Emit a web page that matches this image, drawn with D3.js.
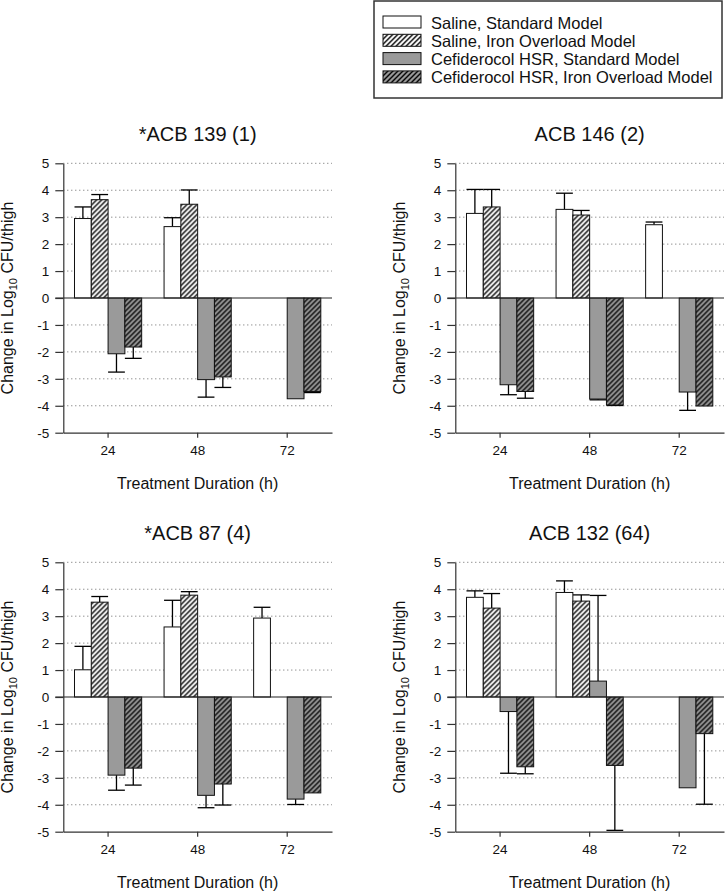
<!DOCTYPE html>
<html>
<head>
<meta charset="utf-8">
<script src="https://cdn.jsdelivr.net/npm/d3@7"></script>
<style>
  body { margin: 0; background: #fff; }
  text { font-family: "Liberation Sans", Arial, sans-serif; fill: #111; }
</style>
</head>
<body>
<div id="chart"></div>
<script>
// categories / labels
var durations = ["24", "48", "72"];
var seriesNames = ["Saline, Standard Model", "Saline, Iron Overload Model",
  "Cefiderocol HSR, Standard Model", "Cefiderocol HSR, Iron Overload Model"];
var panelTitles = ["*ACB 139 (1)", "ACB 146 (2)", "*ACB 87 (4)", "ACB 132 (64)"];
var yTicks = [5, 4, 3, 2, 1, 0, -1, -2, -3, -4, -5];

// mean change per series (rows) at 24 / 48 / 72 h, null = not tested
var acb139Mean = [[2.95, 2.65, null], [3.65, 3.48, null], [-2.07, -3.03, -3.74], [-1.82, -2.93, -3.47]];
var acb139Err  = [[0.43, 0.33, null], [0.19, 0.53, null], [0.68, 0.65, 0], [0.42, 0.39, 0.04]];
var acb146Mean = [[3.14, 3.29, 2.72], [3.38, 3.08, null], [-3.22, -3.75, -3.49], [-3.47, -3.97, -4.01]];
var acb146Err  = [[0.89, 0.60, 0.10], [0.65, 0.17, null], [0.37, 0.03, 0.68], [0.25, 0.02, 0]];
var acb87Mean  = [[1.01, 2.60, 2.93], [3.52, 3.78, null], [-2.90, -3.65, -3.79], [-2.64, -3.23, -3.56]];
var acb87Err   = [[0.87, 0.99, 0.40], [0.21, 0.13, null], [0.56, 0.46, 0.20], [0.63, 0.78, 0]];
var acb132Mean = [[3.70, 3.88, null], [3.30, 3.56, null], [-0.54, 0.59, -3.37], [-2.59, -2.54, -1.36]];
var acb132Err  = [[0.24, 0.43, null], [0.54, 0.23, null], [2.29, 3.18, 0], [0.26, 2.41, 2.62]];

var panelMeans = [acb139Mean, acb146Mean, acb87Mean, acb132Mean];
var panelErrs = [acb139Err, acb146Err, acb87Err, acb132Err];

const width = 725;
const height = 893;
const plotW = 268.7;
const plotH = 269.4;
const origins = [[63.3, 163.3], [455.3, 163.3], [63.3, 562.3], [455.3, 562.3]];
const fills = ["#ffffff", "url(#hatchWhite)", "#9a9a9a", "url(#hatchGray)"];

const svg = d3.select("#chart").append("svg")
  .attr("width", width)
  .attr("height", height);

svg.append("rect").attr("width", width).attr("height", height).attr("fill", "#fff");

const defs = svg.append("defs");
function makeHatch(id, bg) {
  const p = defs.append("pattern")
    .attr("id", id)
    .attr("patternUnits", "userSpaceOnUse")
    .attr("width", 5)
    .attr("height", 5);
  p.append("rect").attr("width", 5).attr("height", 5).attr("fill", bg);
  p.append("path")
    .attr("d", "M0,5 L5,0 M-1,1 L1,-1 M4,6 L6,4")
    .attr("stroke", "#000")
    .attr("stroke-width", 1.4);
}
makeHatch("hatchWhite", "#ffffff");
makeHatch("hatchGray", "#9a9a9a");

const x = d3.scaleBand().domain(durations).range([0, plotW]);
const groupW = x.bandwidth() * 0.75;
const xSeries = d3.scaleBand().domain(d3.range(seriesNames.length)).range([0, groupW]);
const y = d3.scaleLinear().domain([-5, 5]).range([plotH, 0]);

function drawPanel(idx) {
  const g = svg.append("g")
    .attr("transform", `translate(${origins[idx][0]},${origins[idx][1]})`);
  const means = panelMeans[idx];
  const errs = panelErrs[idx];

  // dotted grid
  g.selectAll("line.grid")
    .data(yTicks.filter(t => t !== 0 && t !== -5))
    .enter().append("line")
    .attr("class", "grid")
    .attr("x1", 0).attr("x2", plotW)
    .attr("y1", d => y(d)).attr("y2", d => y(d))
    .attr("stroke", "#666")
    .attr("stroke-width", 1)
    .attr("stroke-dasharray", "1,3");

  // bars
  const bars = [];
  means.forEach((row, s) => {
    row.forEach((v, c) => {
      if (v !== null) bars.push({ s: s, cat: durations[c], v: v, e: errs[s][c] });
    });
  });

  const bx = d => x(d.cat) + (x.bandwidth() - groupW) / 2 + xSeries(d.s);

  // error bars behind bars
  const eb = g.selectAll("g.err")
    .data(bars.filter(d => d.e > 0))
    .enter().append("g")
    .attr("class", "err");
  eb.append("line")
    .attr("x1", d => bx(d) + xSeries.bandwidth() / 2)
    .attr("x2", d => bx(d) + xSeries.bandwidth() / 2)
    .attr("y1", d => y(d.v))
    .attr("y2", d => y(d.v >= 0 ? d.v + d.e : d.v - d.e))
    .attr("stroke", "#000").attr("stroke-width", 1.3);
  eb.append("line")
    .attr("x1", d => bx(d))
    .attr("x2", d => bx(d) + xSeries.bandwidth())
    .attr("y1", d => y(d.v >= 0 ? d.v + d.e : d.v - d.e))
    .attr("y2", d => y(d.v >= 0 ? d.v + d.e : d.v - d.e))
    .attr("stroke", "#000").attr("stroke-width", 1.3);

  g.selectAll("rect.bar")
    .data(bars)
    .enter().append("rect")
    .attr("class", "bar")
    .attr("x", bx)
    .attr("width", xSeries.bandwidth())
    .attr("y", d => y(Math.max(0, d.v)))
    .attr("height", d => Math.abs(y(d.v) - y(0)))
    .attr("fill", d => fills[d.s])
    .attr("stroke", "#111")
    .attr("stroke-width", 1);

  // zero line
  g.append("line")
    .attr("x1", -8).attr("x2", plotW)
    .attr("y1", y(0)).attr("y2", y(0))
    .attr("stroke", "#222").attr("stroke-width", 1.2);

  // axes
  const yAxis = g.append("g")
    .call(d3.axisLeft(y).tickValues(yTicks).tickSize(8).tickSizeOuter(0).tickPadding(6)
      .tickFormat(d => String(d)));
  const xAxis = g.append("g")
    .attr("transform", `translate(0,${plotH})`)
    .call(d3.axisBottom(x).tickSize(5).tickSizeOuter(0).tickPadding(8));
  [yAxis, xAxis].forEach(a => {
    a.selectAll("path, line").attr("stroke", "#333").attr("stroke-width", 1.2);
    a.selectAll("text").attr("font-size", 13.5)
      .attr("font-family", "'Liberation Sans', Arial, sans-serif").attr("fill", "#111");
  });

  // titles
  g.append("text")
    .attr("x", plotW / 2).attr("y", -22)
    .attr("text-anchor", "middle")
    .attr("font-size", 20)
    .text(panelTitles[idx]);

  g.append("text")
    .attr("x", plotW / 2).attr("y", plotH + 56)
    .attr("text-anchor", "middle")
    .attr("font-size", 16)
    .text("Treatment Duration (h)");

  const yl = g.append("text")
    .attr("transform", `translate(-50,${plotH / 2}) rotate(-90)`)
    .attr("text-anchor", "middle")
    .attr("font-size", 16);
  yl.append("tspan").text("Change in Log");
  yl.append("tspan").attr("dy", 4).attr("font-size", 11).text("10");
  yl.append("tspan").attr("dy", -4).text(" CFU/thigh");
}

d3.range(4).forEach(drawPanel);

// legend
const legend = svg.append("g");
legend.append("rect")
  .attr("x", 374).attr("y", 1)
  .attr("width", 348).attr("height", 97)
  .attr("fill", "#fff")
  .attr("stroke", "#333").attr("stroke-width", 1.5);
const items = legend.selectAll("g.item")
  .data(seriesNames)
  .enter().append("g")
  .attr("class", "item")
  .attr("transform", (d, i) => `translate(383,${16 + i * 18.3})`);
items.append("rect")
  .attr("width", 38).attr("height", 12)
  .attr("fill", (d, i) => fills[i])
  .attr("stroke", "#111").attr("stroke-width", 1);
items.append("text")
  .attr("x", 48).attr("y", 12.5)
  .attr("font-size", 16.5)
  .text(d => d);
</script>
</body>
</html>
